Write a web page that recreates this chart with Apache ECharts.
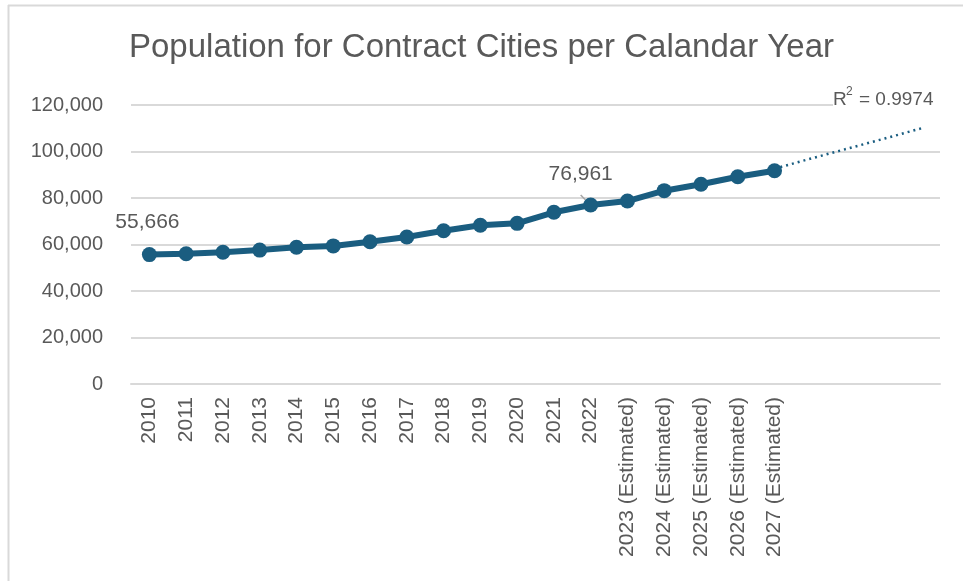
<!DOCTYPE html>
<html>
<head>
<meta charset="utf-8">
<script src="https://cdn.jsdelivr.net/npm/echarts@6/dist/echarts.min.js"></script>
<style>
html,body{margin:0;padding:0;background:#fff;}
#chart{width:963px;height:581px;}
</style>
</head>
<body>
<div id="chart"></div>
<script>
const categories = ['2010','2011','2012','2013','2014','2015','2016','2017','2018','2019','2020','2021','2022',
  '2023 (Estimated)','2024 (Estimated)','2025 (Estimated)','2026 (Estimated)','2027 (Estimated)','','','',''];
const population = [55666, 56000, 56650, 57600, 58800, 59400, 61200, 63200, 65900, 68250, 69100, 73850, 76961,
  78700, 83150, 85900, 89150, 91750];
const trendExtension = [null,null,null,null,null,null,null,null,null,null,null,null,null,null,null,null,null,
  92600, 97000, 101300, 105600, 110000];
const yTicks = [0, 20000, 40000, 60000, 80000, 100000, 120000];
const labelledPoints = {0: '55,666', 12: '76,961'};

const chart = echarts.init(document.getElementById('chart'));
const lineColor = '#1a5d80';
const textColor = '#595959';
const font = 'Liberation Sans, Arial, sans-serif';
const dataWithLabels = population.map((v, i) => {
  if (i === 0) return {value: v, label: {show: true, formatter: labelledPoints[0], position: 'top', offset: [-2, -9]}};
  if (i === 12) return {value: v, label: {show: true, formatter: labelledPoints[12], position: 'top', offset: [-10, -8]},
    labelLine: {show: true}};
  return v;
});
chart.setOption({
  animation: false,
  title: {
    text: 'Population for Contract Cities per Calandar Year',
    left: 'center', top: 26,
    textStyle: {fontFamily: font, fontWeight: 'normal', fontSize: 33, color: textColor}
  },
  graphic: [
    {type: 'line', shape: {x1: 8.5, y1: 5, x2: 8.5, y2: 581}, style: {stroke: '#d9d9d9', lineWidth: 2}},
    {type: 'line', shape: {x1: 8, y1: 5.5, x2: 963, y2: 5.5}, style: {stroke: '#d9d9d9', lineWidth: 2}},
    {type: 'rect', z: 100, shape: {x: 833, y: 86, width: 115, height: 24}, style: {fill: '#ffffff'}},
    {type: 'text', z: 101, left: 833, top: 90, style: {text: 'R', fontSize: 19, fill: textColor, fontFamily: font}},
    {type: 'text', z: 101, left: 846, top: 86, style: {text: '2', fontSize: 12, fill: textColor, fontFamily: font}},
    {type: 'text', z: 101, left: 859, top: 90, style: {text: '= 0.9974', fontSize: 19, fill: textColor, fontFamily: font}}
  ],
  grid: {left: 131, right: 23, top: 105, bottom: 197, containLabel: false},
  xAxis: {
    type: 'category', data: categories, boundaryGap: true,
    axisLine: {lineStyle: {color: '#d9d9d9', width: 2}},
    axisTick: {show: false},
    axisLabel: {rotate: 90, interval: 0, margin: 13, fontSize: 21, color: textColor, fontFamily: font}
  },
  yAxis: {
    type: 'value', min: yTicks[0], max: yTicks[yTicks.length - 1], interval: 20000,
    axisLine: {show: false}, axisTick: {show: false},
    splitLine: {lineStyle: {color: '#d9d9d9', width: 2}},
    axisLabel: {margin: 28, fontSize: 20, color: textColor, fontFamily: font,
      formatter: v => v.toLocaleString('en-US')}
  },
  series: [
    {
      type: 'line', data: trendExtension, symbol: 'none', z: 1,
      lineStyle: {color: lineColor, width: 2.5, type: [2, 4]}
    },
    {
      type: 'line', data: dataWithLabels, symbol: 'circle', symbolSize: 15, z: 3,
      lineStyle: {color: lineColor, width: 6}, itemStyle: {color: lineColor},
      label: {fontSize: 21, color: textColor, fontFamily: font},
      labelLine: {lineStyle: {color: '#a6a6a6', width: 1.5}}
    }
  ]
});
</script>
</body>
</html>
